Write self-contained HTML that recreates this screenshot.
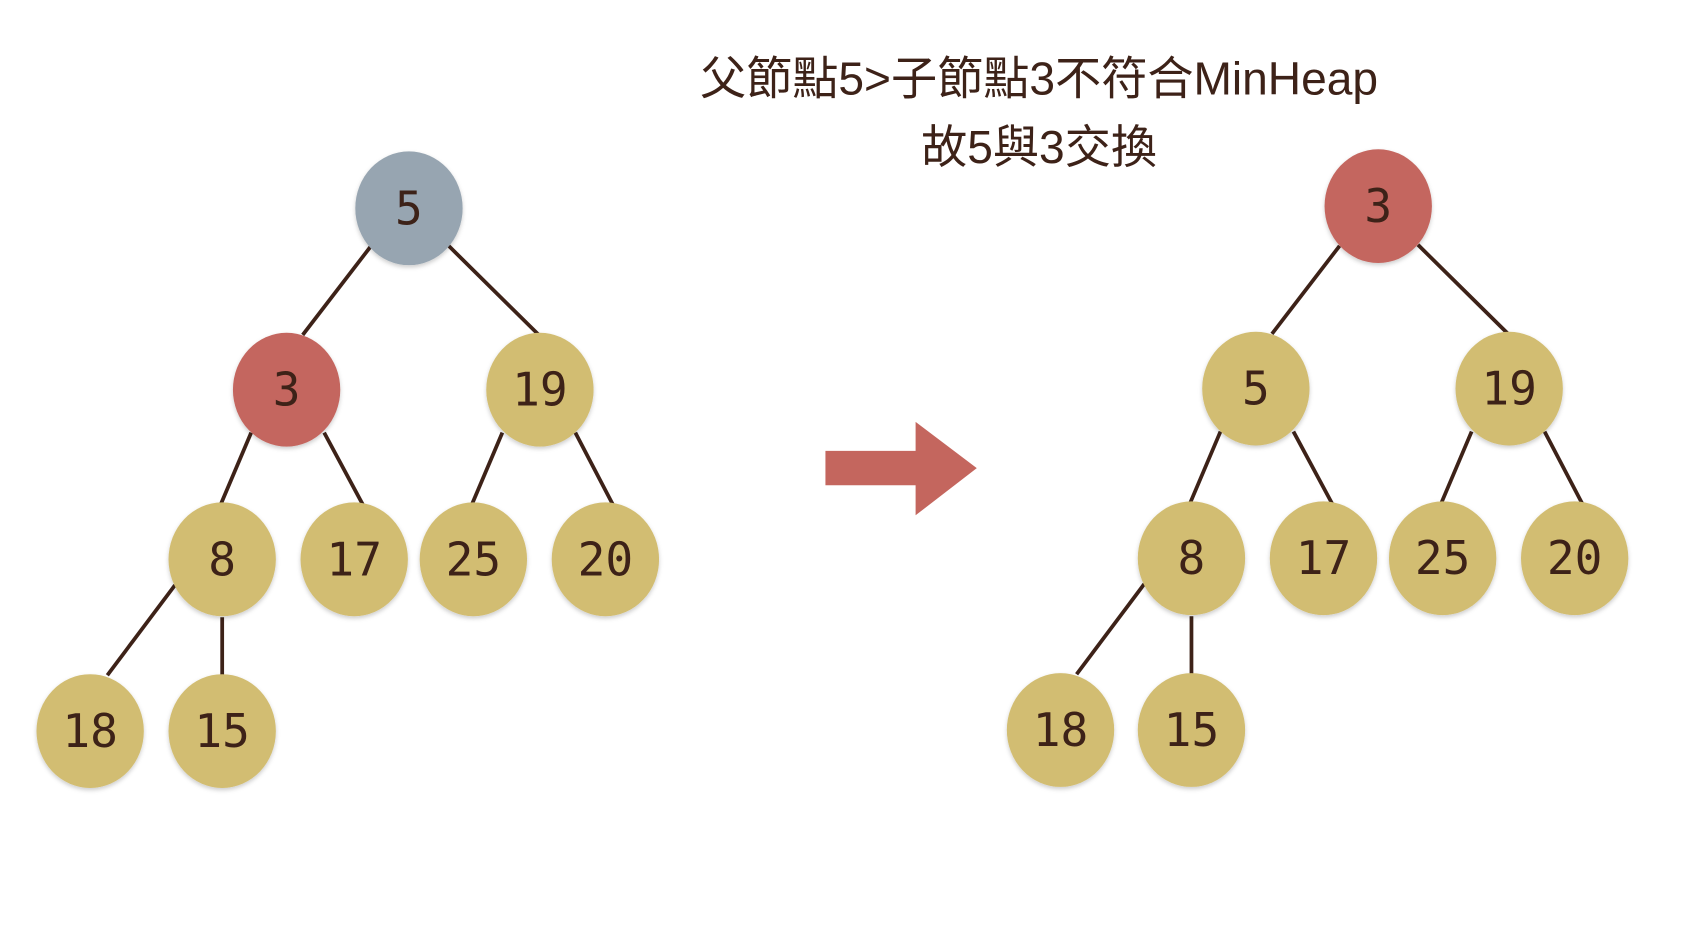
<!DOCTYPE html>
<html><head><meta charset="utf-8"><style>
html,body{margin:0;padding:0;background:#fff;width:1682px;height:934px;overflow:hidden}
svg{display:block}
.n{font-family:"DejaVu Sans Mono","Liberation Mono",monospace;font-size:43px;fill:#3d2218;text-anchor:middle;dominant-baseline:central}
.t{font-family:"Liberation Sans","Noto Sans CJK TC",sans-serif;font-size:43px;fill:#3d2218;text-anchor:middle}
line{stroke:#3d2218;stroke-width:3.5}
</style></head><body>
<svg width="1682" height="934" viewBox="0 0 1567 870" preserveAspectRatio="none">
<defs><filter id="s" x="-20%" y="-20%" width="140%" height="150%"><feDropShadow dx="0" dy="2" stdDeviation="2" flood-color="#000" flood-opacity="0.2"/></filter></defs>
<text class="t" x="968" y="88">父節點5&gt;子節點3不符合MinHeap</text>
<text class="t" x="968" y="152">故5與3交換</text>
<g>
<line x1="345" y1="230" x2="282" y2="312"/><line x1="418" y1="229" x2="502" y2="312"/>
<line x1="234" y1="403" x2="206" y2="469"/><line x1="302" y1="403" x2="338" y2="470"/>
<line x1="468" y1="403" x2="440" y2="469"/><line x1="536" y1="403" x2="571" y2="470"/>
<line x1="163" y1="545" x2="100" y2="629"/><line x1="207" y1="575" x2="207" y2="629"/>
</g>
<g transform="translate(903,-1)">
<line x1="345" y1="230" x2="282" y2="312"/><line x1="418" y1="229" x2="502" y2="312"/>
<line x1="234" y1="403" x2="206" y2="469"/><line x1="302" y1="403" x2="338" y2="470"/>
<line x1="468" y1="403" x2="440" y2="469"/><line x1="536" y1="403" x2="571" y2="470"/>
<line x1="163" y1="545" x2="100" y2="629"/><line x1="207" y1="575" x2="207" y2="629"/>
</g>
<g filter="url(#s)">
<ellipse cx="381" cy="194" rx="50" ry="53" fill="#97a5b1"/>
<ellipse cx="267" cy="363" rx="50" ry="53" fill="#c4665e"/>
<ellipse cx="503" cy="363" rx="50" ry="53" fill="#d2bd72"/>
<ellipse cx="207" cy="521" rx="50" ry="53" fill="#d2bd72"/>
<ellipse cx="330" cy="521" rx="50" ry="53" fill="#d2bd72"/>
<ellipse cx="441" cy="521" rx="50" ry="53" fill="#d2bd72"/>
<ellipse cx="564" cy="521" rx="50" ry="53" fill="#d2bd72"/>
<ellipse cx="84" cy="681" rx="50" ry="53" fill="#d2bd72"/>
<ellipse cx="207" cy="681" rx="50" ry="53" fill="#d2bd72"/>
<ellipse cx="1284" cy="192" rx="50" ry="53" fill="#c4665e"/>
<ellipse cx="1170" cy="362" rx="50" ry="53" fill="#d2bd72"/>
<ellipse cx="1406" cy="362" rx="50" ry="53" fill="#d2bd72"/>
<ellipse cx="1110" cy="520" rx="50" ry="53" fill="#d2bd72"/>
<ellipse cx="1233" cy="520" rx="50" ry="53" fill="#d2bd72"/>
<ellipse cx="1344" cy="520" rx="50" ry="53" fill="#d2bd72"/>
<ellipse cx="1467" cy="520" rx="50" ry="53" fill="#d2bd72"/>
<ellipse cx="988" cy="680" rx="50" ry="53" fill="#d2bd72"/>
<ellipse cx="1110" cy="680" rx="50" ry="53" fill="#d2bd72"/>
</g>
<text class="n" x="381" y="194">5</text>
<text class="n" x="267" y="363">3</text>
<text class="n" x="503" y="363">19</text>
<text class="n" x="207" y="521">8</text>
<text class="n" x="330" y="521">17</text>
<text class="n" x="441" y="521">25</text>
<text class="n" x="564" y="521">20</text>
<text class="n" x="84" y="681">18</text>
<text class="n" x="207" y="681">15</text>
<text class="n" x="1284" y="192">3</text>
<text class="n" x="1170" y="362">5</text>
<text class="n" x="1406" y="362">19</text>
<text class="n" x="1110" y="520">8</text>
<text class="n" x="1233" y="520">17</text>
<text class="n" x="1344" y="520">25</text>
<text class="n" x="1467" y="520">20</text>
<text class="n" x="988" y="680">18</text>
<text class="n" x="1110" y="680">15</text>
<polygon points="769,420 853,420 853,393 910,436 853,480 853,452 769,452" fill="#c4665e"/>
</svg>
</body></html>
